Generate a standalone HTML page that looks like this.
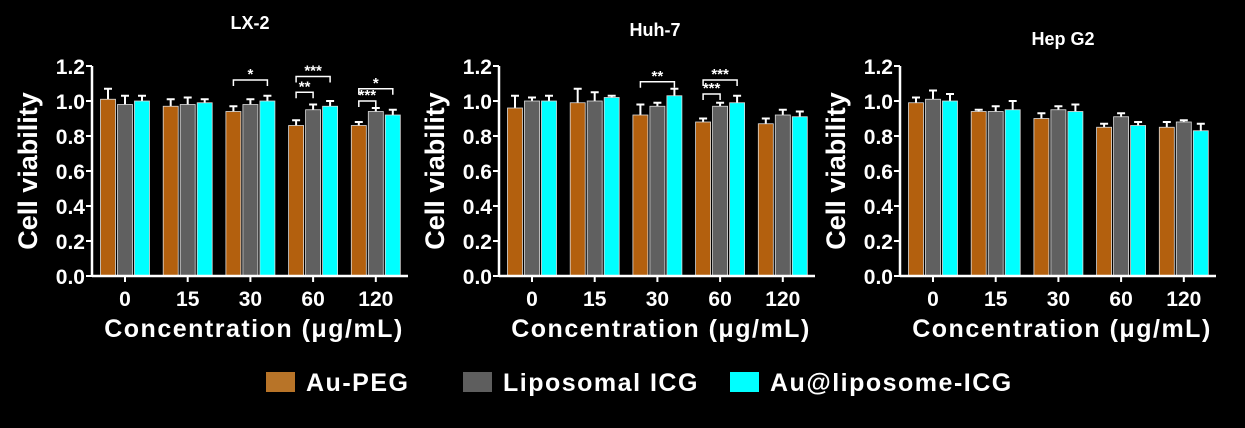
<!DOCTYPE html>
<html><head><meta charset="utf-8"><style>
body{margin:0;background:#000;width:1245px;height:428px;overflow:hidden}
svg{display:block}
text{font-family:"Liberation Sans",Arial,sans-serif;font-weight:bold;fill:#fff}
</style></head><body>
<svg id="chart" width="1245" height="428"></svg>
<script>
const categories = ["0","15","30","60","120"];
const yTicks = [0,0.2,0.4,0.6,0.8,1.0,1.2];
const seriesNames = ["Au-PEG","Liposomal ICG","Au@liposome-ICG"];
const lx2Values = [[1.01,0.97,0.94,0.86,0.86],[0.98,0.98,0.98,0.95,0.94],[1.0,0.99,1.0,0.97,0.92]];
const lx2Errors = [[0.06,0.04,0.03,0.03,0.02],[0.05,0.04,0.03,0.03,0.02],[0.03,0.02,0.03,0.03,0.03]];
const huhValues = [[0.96,0.99,0.92,0.88,0.87],[1.0,1.0,0.97,0.97,0.92],[1.0,1.02,1.03,0.99,0.91]];
const huhErrors = [[0.07,0.08,0.06,0.02,0.03],[0.02,0.05,0.02,0.02,0.03],[0.03,0.01,0.04,0.04,0.03]];
const hepValues = [[0.99,0.94,0.90,0.85,0.85],[1.01,0.94,0.95,0.91,0.88],[1.0,0.95,0.94,0.86,0.83]];
const hepErrors = [[0.03,0.01,0.03,0.02,0.03],[0.05,0.03,0.02,0.02,0.01],[0.04,0.05,0.04,0.02,0.04]];
const colors = ["#b3600e","#606060","#00ffff"];
const legendColors = ["#b87428","#5e5e5e","#00ffff"];
const NS="http://www.w3.org/2000/svg";
const svg=document.getElementById('chart');
function el(tag,attrs,parent,txt){const e=document.createElementNS(NS,tag);for(const k in attrs)e.setAttribute(k,attrs[k]);if(txt!==undefined)e.textContent=txt;(parent||svg).appendChild(e);return e;}
const y0=276, yScale=175;
function yPos(v){return y0-v*yScale;}
const panels=[
 {name:"lx-2",title:"LX-2",tx:250,ty:29,x0:92,vals:lx2Values,errs:lx2Errors,
  sig:[[2,0,2,"*"],[3,0,2,"***"],[3,0,1,"**"],[4,0,2,"*"],[4,0,1,"***"]]},
 {name:"huh-7",title:"Huh-7",tx:655,ty:36,x0:499,vals:huhValues,errs:huhErrors,
  sig:[[2,0,2,"**"],[3,0,2,"***"],[3,0,1,"***"]]},
 {name:"hep-g2",title:"Hep G2",tx:1063,ty:45,x0:900,vals:hepValues,errs:hepErrors,sig:[]}
];
const sigY={"2-0-2":[1.12],"3-0-2":[1.14],"3-0-1":[1.05],"4-0-2":[1.07],"4-0-1":[1.0]};
panels.forEach(p=>{
  const g=el('g',{});
  
  
  const t=el('text',{x:p.tx,y:p.ty,'text-anchor':'middle','font-size':18},g,p.title);
  
  
  const xEnd=p.x0+316, spacing=62.7;
  function gx(i){return p.x0+33+i*spacing;}
  p.vals.forEach((ser,s)=>{
    ser.forEach((v,i)=>{
      const cx=gx(i)+(s-1)*17;
      const top=yPos(v), et=yPos(v+p.errs[s][i]);
      const eb=el('line',{x1:cx,x2:cx,y1:top,y2:et,stroke:'#fff','stroke-width':2},g);
      
      
      el('line',{x1:cx-4,x2:cx+4,y1:et,y2:et,stroke:'#fff','stroke-width':2},g);
      const r=el('rect',{x:cx-7.5,y:top,width:15,height:y0-top,fill:colors[s],stroke:'#ddd','stroke-width':0.8},g);
      
      
    });
  });
  const ya=el('line',{x1:p.x0,x2:p.x0,y1:yPos(1.2),y2:y0+1,stroke:'#fff','stroke-width':2.5},g);
  
  
  const xa=el('line',{x1:p.x0,x2:xEnd,y1:y0,y2:y0,stroke:'#fff','stroke-width':2.5},g);
  
  
  yTicks.forEach(v=>{
    el('line',{x1:p.x0-6,x2:p.x0,y1:yPos(v),y2:yPos(v),stroke:'#fff','stroke-width':2},g);
    const tl=el('text',{x:p.x0-7,y:yPos(v)+8,'text-anchor':'end','font-size':21},g,v.toFixed(1));
    
    
  });
  categories.forEach((c,i)=>{
    el('line',{x1:gx(i),x2:gx(i),y1:y0,y2:y0+6,stroke:'#fff','stroke-width':2},g);
    const tl=el('text',{x:gx(i),y:306,'text-anchor':'middle','font-size':21},g,c);
    
    
  });
  const yt=el('text',{x:0,y:0,'text-anchor':'middle','font-size':27,transform:`translate(${p.x0-55},${yPos(0.6)}) rotate(-90)`},g,'Cell viability');
  
  
  const xt=el('text',{x:(p.x0+xEnd)/2+4,y:337,'text-anchor':'middle','font-size':25,'letter-spacing':1.5},g,'Concentration (\u03bcg/mL)');
  
  
  p.sig.forEach(sg=>{
    const [i,a,b,lab]=sg;
    const key=i+'-'+a+'-'+b;
    const v=(p.name==='huh-7'&&key==='2-0-2')?1.11:(p.name==='huh-7'&&key==='3-0-1')?1.04:(p.name==='huh-7'&&key==='3-0-2')?1.12:sigY[key][0];
    const xa1=gx(i)+(a-1)*17, xb1=gx(i)+(b-1)*17, yy=yPos(v);
    const br=el('path',{d:`M${xa1},${yy+6}V${yy}H${xb1}V${yy+6}`,fill:'none',stroke:'#fff','stroke-width':1.5},g);
    
    
    const st=el('text',{x:(xa1+xb1)/2,y:yy-1,'text-anchor':'middle','font-size':15,fill:'#ddd'},g,lab);
    
    
  });
});
const legX=[266,463,730];
seriesNames.forEach((n,s)=>{
  const lg=el('g',{});
  
  
  el('rect',{x:legX[s],y:372,width:29,height:20,fill:legendColors[s]},lg);
  el('text',{x:legX[s]+40,y:391,'font-size':25,'letter-spacing':1.5},lg,n);
});
</script>
</body></html>
